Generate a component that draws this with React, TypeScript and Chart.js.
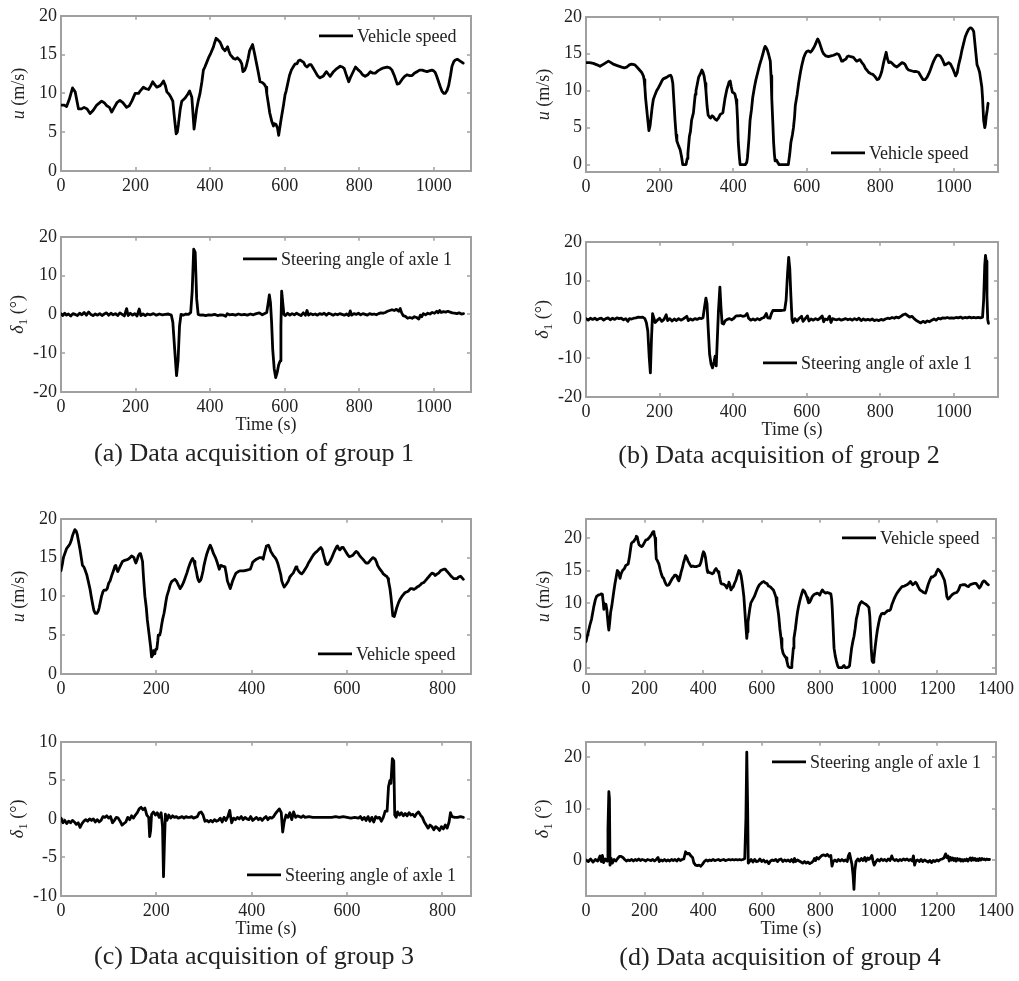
import React, { useEffect, useRef } from "react";
import { Chart, registerables } from "chart.js";

Chart.register(...registerables);

// ---------------- data (time s, value) ----------------
const speedA: [number, number][] = [
  [0,8.5],[8,8.5],[15,8.3],[22,9.2],[31,10.7],[38,10.2],[47,8.0],[55,8.0],[62,8.2],[70,8.0],[78,7.4],[86,7.8],[96,8.5],[109,9.0],[116,8.8],[123,8.4],[130,8.2],[136,7.6],[143,8.2],[150,8.8],[158,9.1],[166,8.8],[176,8.2],[183,8.4],[190,9.0],[199,10.0],[208,10.0],[214,10.4],[221,10.8],[228,10.6],[235,10.5],[241,11.0],[246,11.5],[252,11.1],[257,10.8],[266,11.0],[271,11.3],[275,11.6],[280,11.0],[284,10.2],[290,9.9],[295,9.5],[300,9.0],[304,7.0],[309,4.8],[312,5.0],[315,6.0],[320,8.0],[324,9.0],[333,9.4],[340,9.9],[345,10.3],[351,9.5],[354,7.5],[357,5.4],[360,6.5],[364,8.0],[368,9.0],[373,10.0],[378,11.5],[382,13.0],[386,13.4],[391,14.0],[396,14.6],[402,15.2],[409,16.0],[412,16.5],[416,17.1],[421,16.9],[427,16.6],[434,15.8],[440,15.5],[447,16.0],[450,15.5],[454,15.0],[463,14.5],[468,14.4],[473,14.6],[481,14.2],[485,13.8],[488,12.8],[493,13.0],[497,13.5],[502,14.5],[506,15.5],[514,16.3],[519,15.2],[524,14.0],[529,12.8],[534,11.5],[540,11.4],[545,11.2],[550,10.8],[552,10.0],[556,8.8],[560,7.5],[566,6.3],[570,5.8],[572,6.1],[577,6.0],[581,5.5],[584,4.6],[590,6.5],[597,8.5],[601,9.8],[604,10.3],[608,11.2],[613,12.3],[618,13.0],[624,13.5],[628,13.8],[633,13.8],[637,14.2],[642,14.3],[651,14.0],[655,13.6],[660,13.4],[666,13.7],[671,13.7],[676,13.3],[682,12.8],[688,12.3],[694,12.0],[703,12.2],[712,12.8],[717,12.5],[722,12.2],[731,12.8],[740,13.2],[749,13.5],[755,13.4],[760,13.2],[766,12.3],[772,11.5],[776,12.0],[781,12.5],[790,13.4],[796,13.1],[803,12.8],[809,12.4],[816,12.2],[823,12.4],[830,12.8],[837,12.6],[843,12.6],[850,12.9],[857,13.1],[866,13.3],[875,13.4],[882,13.3],[888,13.0],[895,12.2],[902,11.2],[908,11.3],[915,11.8],[922,12.2],[928,12.4],[935,12.3],[942,12.3],[948,12.6],[955,12.8],[962,13.0],[969,13.0],[975,12.9],[982,12.8],[988,12.9],[995,13.0],[1000,12.9],[1004,12.7],[1008,12.2],[1013,11.5],[1018,10.8],[1022,10.3],[1027,10.0],[1031,10.0],[1036,10.4],[1040,11.0],[1045,12.3],[1049,13.5],[1054,14.1],[1058,14.3],[1063,14.4],[1067,14.3],[1073,14.1],[1079,13.9]
];

const steerA: [number, number][] = [
  [0,0.2],[5,-0.3],[10,0.3],[15,-0.2],[20,0.1],[26,-0.4],[32,0.2],[38,0],[44,-0.3],[50,0.3],[56,-0.1],[62,0.5],[68,-0.2],[74,0.6],[80,0],[86,-0.3],[92,0.1],[98,-0.2],[104,0.2],[110,-0.3],[116,0.1],[122,0.4],[128,-0.2],[134,0.3],[140,-0.1],[146,0.2],[152,-0.3],[158,0.4],[164,0],[170,-0.4],[176,1.5],[180,-0.3],[186,0.3],[192,-0.2],[198,0.2],[204,-0.4],[210,1.4],[214,-0.3],[220,0.1],[226,-0.3],[232,0.1],[240,-0.1],[248,0.2],[256,-0.2],[264,0.1],[272,-0.1],[280,0],[288,0.1],[296,-0.2],[300,-2],[305,-9],[310,-15.8],[314,-12],[318,-3],[322,0],[328,-0.2],[335,0.1],[342,0],[348,0.5],[352,6],[356,16.8],[360,16],[364,4],[368,0],[374,-0.2],[380,-0.1],[388,-0.3],[396,-0.1],[404,-0.2],[412,0],[420,-0.3],[428,-0.1],[436,-0.2],[442,-0.5],[446,0.2],[452,-0.1],[460,0],[468,-0.2],[476,0.1],[484,-0.1],[492,0],[500,-0.2],[508,0.1],[516,-0.1],[524,0.2],[532,0.4],[540,-0.1],[548,0.3],[552,0.5],[556,3],[559,5],[562,3],[565,-2],[568,-9],[572,-14],[576,-16.3],[580,-15],[584,-13],[588,-12],[590,-3],[592,6],[595,3],[598,0],[602,-0.3],[608,0.3],[614,-0.2],[620,0.2],[626,-0.1],[632,0.3],[638,0],[644,-0.3],[650,0.4],[656,-0.2],[660,1.0],[664,-0.2],[670,0.2],[676,-0.1],[682,0.1],[688,-0.2],[694,0.2],[700,0],[706,0.3],[712,-0.2],[718,0.3],[724,0.1],[730,-0.2],[736,0.1],[742,-0.1],[748,0.2],[754,0],[760,-0.2],[766,0.1],[772,-0.3],[776,0.9],[780,-0.2],[786,0.2],[792,0],[798,0.3],[804,-0.1],[810,0.2],[816,0],[822,-0.2],[828,0.2],[834,0],[840,0.1],[846,-0.1],[852,0.2],[858,0.4],[864,0.3],[870,0.5],[876,0.8],[882,1.0],[888,1.2],[894,1.0],[900,1.3],[906,0.8],[910,1.5],[914,0.4],[918,-0.3],[924,-0.5],[930,-1.0],[936,-0.8],[942,-1.0],[948,-0.6],[954,-0.8],[960,-1.2],[964,-0.2],[968,-0.6],[972,0.2],[978,-0.1],[984,0.3],[990,0.1],[996,0.5],[1002,0.3],[1008,0.8],[1012,0.4],[1016,1.0],[1020,0.5],[1026,0.7],[1032,0.6],[1038,0.8],[1044,0.6],[1050,0.4],[1056,0.3],[1062,0.2],[1068,0.4],[1074,0.1],[1080,0.2]
];

const speedB: [number, number][] = [
  [0,13.8],[10,13.8],[20,13.7],[30,13.5],[38,13.3],[48,13.6],[61,14.0],[68,13.8],[74,13.6],[85,13.4],[97,13.2],[104,13.1],[111,13.2],[118,13.5],[124,13.6],[133,13.5],[142,13.0],[151,12.5],[156,12.0],[158,11.5],[160,10.5],[162,9.0],[165,7.5],[167,6.5],[171,4.6],[174,5.2],[177,6.5],[180,7.8],[183,8.8],[188,9.5],[192,10.0],[197,10.4],[201,10.8],[206,11.3],[210,11.6],[219,11.8],[225,12.0],[230,12.1],[233,11.8],[236,11.0],[239,8.5],[242,6.0],[245,4.0],[247,3.2],[252,2.5],[256,2.0],[260,1.0],[263,0.0],[268,0.0],[272,0.0],[275,0.8],[277,1.5],[281,3.8],[284,4.5],[287,6.0],[292,7.0],[294,8.0],[297,9.5],[299,10.0],[303,11.0],[306,11.8],[311,12.3],[315,12.8],[318,12.5],[321,12.0],[324,11.0],[326,10.0],[329,8.0],[332,6.7],[336,6.4],[339,6.3],[343,6.6],[346,6.5],[350,6.2],[355,6.0],[360,6.3],[365,6.8],[372,7.0],[375,8.0],[378,9.0],[383,10.2],[385,10.5],[389,11.2],[392,11.3],[395,10.5],[398,9.8],[402,9.7],[405,9.5],[408,8.8],[410,8.0],[412,6.0],[414,3.0],[417,1.0],[419,0.0],[425,0.0],[433,0.0],[437,0.3],[439,1.0],[443,3.5],[446,6.0],[450,7.5],[453,9.0],[458,10.5],[462,11.5],[467,12.5],[472,13.5],[477,14.3],[481,15.0],[484,15.6],[487,16.0],[490,15.8],[493,15.5],[497,14.8],[501,14.0],[503,12.0],[505,9.0],[508,5.5],[510,3.0],[512,1.5],[514,0.5],[518,0.6],[521,0.3],[525,0.0],[535,0.0],[545,0.0],[550,0.0],[554,1.5],[557,3.0],[561,4.0],[564,5.0],[567,6.5],[569,8.0],[574,9.5],[578,11.0],[583,12.5],[587,13.5],[592,14.5],[596,15.0],[600,15.3],[605,15.4],[610,15.2],[614,15.4],[619,15.8],[623,16.2],[627,16.7],[630,17.0],[634,16.6],[638,16.0],[642,15.4],[646,15.0],[652,14.7],[659,14.6],[666,14.7],[673,14.8],[682,15.0],[687,14.9],[691,14.5],[695,14.0],[698,14.0],[703,14.2],[707,14.3],[710,14.6],[714,14.7],[720,14.6],[727,14.5],[732,14.2],[736,14.0],[740,14.1],[745,14.2],[750,13.8],[755,13.5],[760,13.0],[765,12.7],[768,12.5],[774,12.3],[780,12.2],[786,11.9],[791,11.5],[796,11.6],[800,12.0],[804,12.6],[809,13.8],[813,14.6],[816,15.2],[819,14.4],[823,13.8],[828,13.9],[832,13.7],[838,13.4],[845,13.2],[852,13.5],[859,13.8],[864,13.7],[868,13.5],[873,13.0],[877,12.8],[884,12.7],[891,12.6],[898,12.6],[904,12.5],[910,12.0],[916,11.5],[922,11.5],[927,11.8],[932,12.3],[936,12.8],[941,13.5],[945,14.0],[950,14.5],[954,14.8],[959,14.8],[963,14.7],[968,14.3],[975,13.5],[980,13.6],[986,13.8],[991,13.6],[997,13.0],[1001,12.5],[1005,12.0],[1009,12.4],[1013,13.5],[1018,14.5],[1022,15.5],[1027,16.5],[1031,17.3],[1036,17.9],[1040,18.3],[1044,18.5],[1047,18.5],[1051,18.3],[1054,18.0],[1056,17.0],[1058,16.0],[1061,14.5],[1063,13.5],[1067,13.0],[1070,12.5],[1073,11.5],[1076,10.5],[1078,9.0],[1081,6.0],[1084,5.0],[1086,5.5],[1088,6.5],[1091,7.5],[1093,8.3]
];

const steerB: [number, number][] = [
  [0,0.2],[6,-0.2],[12,0.3],[18,0],[24,0.3],[30,-0.1],[36,0.2],[42,0.3],[48,-0.2],[54,0.2],[60,0.4],[66,-0.1],[72,0.3],[78,0],[84,0.4],[90,0.2],[96,0.3],[102,-0.1],[108,0.2],[114,-0.5],[118,0.2],[124,0.1],[130,0.3],[136,0.4],[142,0.6],[148,0.5],[154,0.6],[160,0.2],[164,-0.8],[168,-3],[172,-10],[175,-13.8],[178,-5],[181,1.5],[184,0.5],[188,-0.8],[194,-0.2],[200,0.3],[206,-0.5],[212,0],[218,1.2],[222,-0.3],[228,0.2],[234,-0.4],[240,0.1],[246,-0.3],[252,0.2],[258,-0.2],[264,0.1],[270,0.5],[274,0.8],[278,-0.3],[284,0.1],[290,-0.2],[296,0.2],[302,0],[308,0.3],[314,0.2],[318,0.4],[322,3],[326,5.5],[329,4],[332,-2],[336,-9],[340,-11.5],[344,-12.5],[348,-11],[351,-9.5],[354,-12],[357,-5],[360,2],[364,8.3],[367,3],[370,-1],[374,-1.2],[378,-0.4],[384,0],[390,0.2],[396,-0.1],[402,0.3],[408,0.9],[414,0.9],[420,1.0],[426,0.8],[432,0.9],[438,1.5],[442,0.3],[448,-0.2],[454,0.1],[460,-0.2],[466,0.2],[472,-0.1],[478,0.3],[484,0.5],[490,1.5],[494,0.4],[500,0.3],[504,1.5],[508,2.3],[516,2.3],[524,2.3],[532,2.3],[540,2.4],[544,5],[548,12],[551,16],[554,13],[557,6],[560,0],[563,-0.8],[568,0.2],[574,-0.4],[580,0.3],[586,0.8],[590,-0.5],[596,0.2],[602,0.9],[606,-0.4],[612,0.1],[618,-0.2],[624,0.2],[630,-0.1],[636,0.3],[642,0.9],[646,-0.6],[650,0.1],[656,-0.1],[662,0.8],[666,-0.8],[670,0.2],[676,0],[682,-0.1],[688,0.1],[694,-0.2],[700,0],[706,0.2],[712,-0.1],[718,0.1],[724,-0.2],[730,0.2],[736,-0.1],[742,0.3],[748,-0.3],[754,0.1],[760,-0.2],[766,0],[772,-0.2],[778,0.1],[784,-0.3],[790,-0.1],[796,-0.3],[802,0],[808,-0.2],[814,0.1],[820,0.3],[826,0.2],[832,0.5],[838,0.3],[844,0.6],[850,0.4],[856,0.8],[862,1.2],[868,1.4],[874,1.0],[880,0.6],[886,0.8],[892,0.2],[898,-0.3],[904,-0.6],[910,-0.9],[916,-0.5],[922,-0.8],[928,-0.4],[934,-0.6],[940,-0.2],[946,0.1],[952,-0.2],[958,0.3],[964,0.1],[970,0.4],[976,0.3],[982,0.5],[988,0.3],[994,0.4],[1000,0.3],[1006,0.5],[1012,0.4],[1018,0.6],[1024,0.3],[1030,0.5],[1036,0.4],[1042,0.6],[1048,0.4],[1054,0.5],[1060,0.4],[1066,0.5],[1072,0.4],[1078,0.6],[1081,5],[1084,14],[1086,16.5],[1088,15],[1090,6],[1092,0],[1094,-1]
];

const speedC: [number, number][] = [
  [0,13.3],[3,14.2],[5,15.0],[9,15.7],[12,16.2],[16,16.5],[19,16.8],[22,17.3],[24,17.8],[27,18.3],[29,18.6],[32,18.4],[34,18.0],[37,17.0],[40,16.0],[43,14.8],[45,14.0],[48,13.8],[50,13.5],[54,12.8],[57,12.0],[61,10.9],[64,9.8],[67,8.8],[69,8.2],[72,7.8],[75,7.8],[78,8.1],[80,8.5],[83,9.4],[85,10.0],[88,10.6],[90,10.8],[94,10.8],[97,11.0],[100,11.7],[103,12.0],[107,12.8],[110,13.3],[113,13.9],[115,14.0],[117,13.5],[119,13.2],[122,13.6],[125,14.0],[129,14.5],[132,14.6],[137,14.7],[141,14.8],[145,15.0],[148,15.2],[151,15.1],[153,15.0],[155,14.6],[157,14.3],[160,14.8],[162,15.2],[165,15.5],[167,15.5],[169,15.0],[171,14.5],[173,12.5],[176,10.0],[179,8.5],[181,7.0],[183,6.0],[185,5.0],[188,3.5],[190,2.2],[192,2.4],[194,3.0],[196,2.6],[197,2.8],[199,3.2],[201,3.2],[203,4.3],[204,5.0],[207,5.0],[209,5.5],[211,6.3],[213,7.0],[216,7.8],[218,8.5],[220,9.3],[222,10.0],[226,10.8],[229,11.5],[232,11.9],[234,12.0],[237,12.1],[239,12.2],[242,12.0],[246,11.5],[250,11.0],[254,11.4],[257,11.8],[260,12.3],[264,13.0],[268,13.8],[271,14.3],[274,14.7],[276,14.9],[279,14.5],[281,14.0],[284,13.2],[286,12.5],[288,12.1],[290,11.9],[293,12.1],[295,12.5],[298,13.3],[300,14.0],[303,14.8],[306,15.5],[310,16.2],[313,16.6],[316,16.2],[320,15.5],[324,15.0],[327,14.5],[330,13.9],[332,13.5],[335,14.0],[339,13.9],[344,13.8],[347,12.8],[349,12.0],[352,11.5],[355,11.0],[358,11.6],[360,12.0],[364,12.6],[367,13.0],[372,13.2],[376,13.3],[383,13.3],[390,13.4],[397,13.5],[400,14.0],[402,14.4],[406,14.6],[410,14.8],[417,15.0],[421,15.0],[424,14.8],[427,15.6],[431,16.5],[435,16.6],[438,16.2],[440,15.8],[445,15.3],[449,15.0],[452,14.7],[455,14.2],[458,13.5],[461,12.8],[463,12.0],[466,11.5],[468,11.2],[473,11.6],[477,12.0],[480,12.5],[484,12.8],[487,13.0],[490,13.4],[493,13.8],[495,13.6],[498,13.3],[502,13.0],[505,12.9],[509,13.2],[512,13.5],[516,13.9],[519,14.3],[523,14.7],[526,15.0],[530,15.4],[533,15.6],[537,15.8],[540,16.0],[545,16.3],[548,16.0],[550,15.5],[553,14.8],[556,14.2],[559,14.1],[561,14.2],[565,14.6],[568,15.0],[572,15.6],[575,16.0],[578,16.4],[580,16.5],[583,16.1],[585,16.0],[589,16.3],[592,16.3],[596,15.9],[599,15.6],[602,15.3],[605,15.1],[609,15.2],[612,15.3],[616,15.6],[619,15.8],[623,15.6],[626,15.3],[630,15.0],[633,14.8],[637,14.5],[640,14.3],[644,14.3],[647,14.5],[651,14.8],[654,15.0],[657,14.9],[659,14.8],[662,14.4],[664,14.0],[667,13.7],[669,13.5],[673,13.2],[676,12.9],[680,12.7],[683,12.6],[686,12.3],[687,12.0],[690,11.0],[692,10.0],[694,8.8],[696,7.5],[699,7.4],[701,7.8],[704,8.5],[708,9.2],[711,9.6],[715,10.0],[719,10.3],[722,10.5],[726,10.6],[729,10.7],[733,11.0],[736,11.0],[740,10.9],[743,11.0],[747,11.2],[750,11.3],[754,11.5],[757,11.7],[761,11.8],[764,12.0],[768,12.3],[771,12.5],[775,12.8],[778,13.0],[782,12.9],[785,12.7],[789,12.9],[792,13.0],[796,13.3],[799,13.4],[803,13.5],[806,13.5],[810,13.2],[813,13.0],[817,12.7],[820,12.5],[824,12.3],[827,12.3],[831,12.3],[834,12.5],[838,12.6],[841,12.4],[844,12.2]
];

const steerC: [number, number][] = [
  [0,0.1],[4,-0.5],[8,-0.2],[12,-0.6],[16,-0.3],[20,-0.5],[24,-0.2],[28,-0.4],[32,-0.7],[36,-0.5],[40,-1.1],[44,-0.6],[48,-0.3],[52,-0.1],[56,-0.3],[60,0],[64,-0.2],[68,0],[72,-0.4],[76,-0.1],[80,-0.4],[84,-0.2],[88,0.3],[92,0.2],[96,0.4],[100,0.1],[104,0.3],[108,-0.5],[112,-0.2],[116,0.2],[120,0.1],[124,-0.3],[128,-0.8],[132,-0.6],[136,-0.4],[140,0.2],[144,-0.1],[148,0.4],[152,0.1],[156,0.5],[160,0.8],[164,1.3],[168,1.5],[172,1.2],[176,1.4],[180,0.5],[184,0.2],[186,-2.3],[188,-1.5],[190,0.6],[194,0.9],[198,0.5],[202,0.8],[206,0.2],[210,0.8],[213,-1],[215,-7.5],[217,-3],[219,0.6],[222,-0.2],[226,0.5],[230,0.1],[234,0.4],[238,0.2],[242,0.3],[246,0.1],[250,0.2],[254,0.3],[258,0.1],[262,0.3],[266,0.2],[270,0.2],[274,0.3],[278,0.1],[282,0.2],[286,0.3],[290,0.8],[294,0.9],[298,0.5],[302,-0.3],[306,-0.2],[310,-0.4],[314,-0.2],[318,-0.4],[322,-0.1],[326,-0.3],[330,-0.2],[334,0.1],[338,-0.4],[342,0.2],[346,-0.2],[350,0.3],[354,1.1],[356,0.2],[358,-0.5],[362,0.1],[366,-0.1],[370,0.2],[374,0],[378,0.3],[382,-0.1],[386,0.2],[390,0],[394,-0.1],[398,0.3],[402,-0.2],[406,0],[410,0.2],[414,-0.1],[418,0.1],[422,-0.2],[426,0.1],[430,0.3],[434,-0.1],[438,0.2],[442,0.1],[446,0.3],[450,0.7],[454,1.0],[458,1.3],[462,0.8],[465,-1.7],[468,-0.4],[472,0.5],[476,0.2],[480,0.8],[484,-0.1],[488,0.9],[492,0.2],[496,0.4],[500,0.3],[504,0.2],[508,0.4],[512,0.2],[520,0.3],[528,0.2],[536,0.2],[544,0.2],[552,0.2],[560,0.2],[568,0.2],[576,0.3],[584,0.2],[592,0.3],[600,0.2],[608,0.1],[616,0.2],[624,0.1],[628,0.3],[632,-0.1],[636,0.2],[640,-0.2],[644,0.3],[648,-0.3],[652,0.2],[656,-0.4],[660,0.3],[664,0.1],[668,0.2],[672,-0.3],[676,0.2],[680,1.0],[684,1.0],[687,4.2],[690,5.0],[692,4.6],[695,7.8],[698,7.5],[700,0.5],[703,0.2],[706,0.9],[710,0.5],[714,0.8],[718,0.4],[722,0.7],[726,0.4],[730,0.8],[734,0.5],[738,0.6],[742,0.3],[746,0.7],[750,0.9],[754,0.5],[758,0.2],[762,-0.4],[766,-0.8],[770,-1.2],[774,-0.8],[778,-1.0],[782,-1.4],[786,-1.0],[790,-1.2],[794,-1.5],[798,-1.0],[802,-1.3],[806,-0.8],[810,-1.2],[814,-0.4],[817,0.8],[820,0.3],[826,0.2],[832,0.2],[838,0.3],[844,0.2]
];

const speedD: [number, number][] = [
  [0,4.0],[4,4.8],[8,5.5],[13,6.5],[19,7.5],[23,8.5],[27,9.5],[32,10.5],[36,11.0],[42,11.2],[48,11.3],[53,11.4],[56,11.3],[59,10.0],[61,9.0],[64,9.5],[68,9.8],[71,9.0],[73,8.0],[76,6.5],[78,5.8],[81,7.0],[84,8.5],[88,9.5],[91,10.5],[95,11.8],[99,13.0],[103,14.0],[107,15.0],[111,14.8],[116,13.8],[120,14.5],[125,15.0],[131,15.3],[136,15.8],[140,15.9],[144,16.0],[148,17.0],[152,18.3],[155,19.2],[159,19.4],[163,19.5],[167,19.8],[170,20.0],[172,20.3],[175,20.2],[178,19.5],[181,19.0],[186,18.8],[190,18.7],[193,18.8],[198,19.2],[204,19.7],[210,19.8],[214,20.0],[218,20.2],[223,20.5],[226,20.8],[229,21.0],[232,20.8],[236,20.0],[238,18.5],[240,16.8],[244,16.5],[249,16.0],[253,15.2],[257,14.5],[261,14.0],[265,13.8],[270,13.2],[274,12.8],[278,12.7],[283,12.8],[289,13.3],[295,13.8],[299,14.0],[303,14.3],[307,14.3],[311,14.0],[314,13.6],[317,13.4],[321,14.0],[325,14.8],[329,15.4],[333,16.2],[337,16.8],[340,17.3],[344,17.0],[348,16.5],[354,16.0],[359,15.6],[365,15.7],[370,15.6],[376,15.6],[382,15.7],[388,15.8],[392,16.2],[396,17.0],[399,17.6],[401,17.9],[405,17.6],[408,17.0],[411,16.0],[414,15.0],[416,14.7],[421,14.7],[427,14.6],[431,14.5],[435,14.6],[439,15.0],[442,15.2],[444,15.3],[448,15.0],[451,14.8],[454,14.5],[458,13.6],[461,13.0],[466,12.9],[470,12.9],[473,12.8],[477,12.6],[481,12.3],[485,12.8],[488,13.2],[491,12.8],[495,12.0],[499,12.3],[503,12.5],[507,13.0],[512,13.5],[517,14.3],[522,15.0],[525,14.9],[529,14.3],[532,13.5],[535,12.5],[539,11.0],[542,9.0],[545,7.0],[549,4.5],[551,5.5],[553,7.0],[556,8.0],[559,9.0],[563,10.0],[569,10.5],[575,11.0],[580,11.6],[586,12.3],[592,12.8],[597,13.0],[602,13.2],[607,13.3],[612,13.1],[618,13.0],[623,12.6],[629,12.5],[635,12.2],[640,12.0],[644,11.5],[649,10.8],[652,9.8],[655,9.0],[658,8.0],[662,6.0],[666,4.5],[669,3.0],[673,2.2],[678,1.8],[683,1.5],[686,1.0],[690,0.2],[695,0.0],[700,0.0],[703,0.6],[705,1.5],[708,3.0],[710,4.5],[715,6.0],[719,7.5],[722,8.5],[726,9.5],[730,10.3],[734,11.0],[738,11.6],[741,12.0],[746,11.8],[751,11.3],[755,10.8],[758,10.3],[760,10.0],[764,10.1],[768,10.5],[773,11.0],[779,11.3],[784,11.4],[790,11.5],[794,11.4],[798,11.2],[802,11.6],[807,12.0],[812,11.7],[818,11.5],[824,11.6],[830,11.5],[836,11.4],[839,10.5],[841,9.0],[844,6.0],[847,3.0],[851,1.8],[855,1.0],[859,0.3],[862,0.0],[868,0.0],[875,0.0],[878,0.2],[881,0.3],[885,0.0],[892,0.0],[897,0.1],[900,0.3],[903,1.5],[907,3.0],[911,4.0],[915,4.8],[919,6.0],[923,7.5],[928,8.5],[932,9.5],[937,10.0],[941,10.2],[947,10.0],[955,9.8],[960,9.6],[966,9.3],[969,8.0],[971,6.0],[974,3.0],[977,1.0],[980,0.8],[983,1.3],[987,3.0],[991,4.5],[995,5.8],[1000,7.0],[1004,7.8],[1009,8.3],[1014,8.4],[1018,8.3],[1023,8.5],[1030,8.8],[1036,8.8],[1040,9.0],[1045,9.8],[1051,10.5],[1056,11.0],[1062,11.5],[1070,12.0],[1079,12.5],[1087,12.6],[1096,12.8],[1102,13.0],[1108,13.3],[1112,13.0],[1116,12.8],[1121,13.0],[1125,13.2],[1129,13.0],[1134,12.5],[1140,12.0],[1147,11.8],[1153,11.6],[1159,11.5],[1163,12.0],[1168,12.8],[1173,13.4],[1179,14.0],[1184,14.0],[1189,14.2],[1193,14.3],[1197,14.8],[1202,15.2],[1207,15.0],[1213,14.6],[1219,14.0],[1224,13.5],[1228,12.5],[1232,11.0],[1236,10.6],[1240,10.7],[1245,11.0],[1251,11.3],[1258,11.5],[1266,11.6],[1272,12.0],[1278,12.7],[1286,12.8],[1295,12.8],[1300,12.6],[1306,12.5],[1311,12.8],[1317,12.9],[1324,13.0],[1332,13.0],[1337,12.7],[1343,12.3],[1348,12.6],[1354,13.2],[1358,13.4],[1363,13.3],[1368,13.0],[1374,12.8]
];

const steerD: [number, number][] = [
  [0,0],[8,-0.3],[16,0.2],[24,-0.4],[32,0.1],[40,-0.2],[48,0.8],[52,-0.3],[56,0.9],[60,-0.5],[66,0.2],[72,-0.2],[75,6],[78,13.3],[80,12],[82,-1.0],[86,0.3],[90,-0.6],[96,0.1],[102,-0.2],[108,0.3],[114,0.7],[120,0.7],[126,0.5],[132,0.1],[138,-0.2],[144,0],[150,-0.1],[156,0.1],[162,-0.2],[168,0.1],[174,-0.1],[180,0.2],[186,-0.1],[192,0.1],[198,0],[204,-0.2],[210,0.1],[216,0],[222,-0.1],[228,0.1],[234,-0.2],[240,0.1],[246,0.5],[250,-0.3],[256,0],[262,-0.2],[268,0.1],[274,-0.2],[280,0],[286,-0.2],[292,0.1],[298,-0.1],[304,0.1],[310,-0.2],[316,0.2],[322,-0.1],[328,0.1],[334,0.2],[340,1.6],[346,1.2],[352,1.3],[358,0.8],[364,0.5],[368,-0.5],[374,-1.0],[380,-1.1],[386,-1.0],[392,-1.2],[398,-0.8],[404,-0.3],[410,0],[416,-0.2],[422,0],[428,-0.1],[434,0.1],[440,-0.1],[446,0],[452,0.1],[458,-0.1],[464,0],[470,0.1],[476,-0.1],[482,0],[488,0.1],[494,0],[500,0.1],[506,0],[512,0.1],[518,0],[524,0.1],[530,0],[536,0.1],[542,0.3],[546,8],[549,21],[552,10],[554,-0.6],[558,-0.3],[564,0.1],[570,-0.4],[576,0.1],[582,-0.3],[588,-0.2],[594,0.2],[600,-0.3],[606,0],[612,-0.4],[618,-0.2],[624,-0.7],[630,-0.2],[636,0],[642,-0.1],[648,0.1],[654,-0.3],[660,0.1],[666,0.2],[672,-0.3],[678,0],[684,-0.2],[690,0],[696,-0.3],[702,0.1],[708,-0.4],[712,0.3],[716,-0.3],[722,0],[728,-0.2],[734,-0.4],[740,-0.6],[746,-0.3],[752,-0.6],[758,-0.4],[764,-0.7],[770,-0.5],[776,-0.2],[780,0.3],[784,-0.1],[788,0.5],[794,0.2],[800,0.6],[806,0.9],[812,1.0],[818,0.8],[824,1.1],[830,0.7],[836,0.9],[840,-1.2],[844,-0.3],[850,0],[856,-0.3],[862,0.1],[868,-0.2],[874,0.1],[880,-0.2],[886,0],[892,-0.3],[896,0.8],[900,1.3],[904,0.2],[908,-0.8],[912,-3],[915,-5.7],[918,-2],[922,-0.3],[928,0.2],[934,-0.2],[940,0.3],[946,-0.1],[952,0.5],[956,-0.2],[962,0.4],[966,0.1],[970,0.3],[976,0.9],[980,-0.2],[984,-1.0],[990,-0.3],[996,0.1],[1002,-0.2],[1008,0.2],[1014,-0.1],[1020,0.1],[1026,-0.2],[1032,0.2],[1038,-0.1],[1044,0.8],[1048,0.2],[1054,-0.1],[1060,0.1],[1066,-0.2],[1072,0.1],[1078,-0.1],[1084,0.2],[1090,0],[1096,0.2],[1102,-0.1],[1108,0.1],[1114,-0.2],[1118,0.8],[1122,-1.0],[1126,-0.2],[1132,0],[1138,-0.3],[1144,0.1],[1150,-0.3],[1156,0],[1162,-0.2],[1168,-0.4],[1174,-0.1],[1180,-0.5],[1186,-0.1],[1192,-0.3],[1198,0],[1204,-0.2],[1210,0.1],[1216,0.2],[1222,0.4],[1228,1.2],[1232,0.5],[1236,0.8],[1240,-0.2],[1244,0.5],[1248,0],[1252,0.4],[1256,-0.1],[1260,0.3],[1264,-0.2],[1268,0.3],[1272,0],[1276,0.2],[1280,-0.2],[1284,0.1],[1288,-0.2],[1292,0.1],[1296,-0.1],[1300,0.2],[1304,-0.2],[1308,0.1],[1312,0.4],[1316,-0.1],[1320,0.4],[1324,0],[1328,0.3],[1332,-0.1],[1336,0.2],[1340,-0.1],[1344,0.3],[1348,0],[1352,0.3],[1356,0.1],[1360,0.2],[1364,0],[1368,0.2],[1372,0.1],[1378,0.1]
];

// tick labels
const xTicks1100 = [0, 200, 400, 600, 800, 1000];
const xTicks860 = [0, 200, 400, 600, 800];
const xTicks1400 = [0, 200, 400, 600, 800, 1000, 1200, 1400];
const yTicksSpeed = [0, 5, 10, 15, 20];
const yTicksSteer20 = [-20, -10, 0, 10, 20];
const yTicksSteer10 = [-10, -5, 0, 5, 10];
const yTicksSteerD = [0, 10, 20];

const legendSpeed = "Vehicle speed";
const legendSteer = "Steering angle of axle 1";
const captions = [
  "(a) Data acquisition of group 1",
  "(b) Data acquisition of group 2",
  "(c) Data acquisition of group 3",
  "(d) Data acquisition of group 4",
];

// ---------------- styling / layout ----------------
const FONT = "'Liberation Serif', 'Times New Roman', Times, serif";
const TEXT = "#222";
const FRAME = "#a0a0a0";
const YAXIS_W = 61;
const PAD_TOP = 10;

type Panel = {
  data: [number, number][];
  left: number; top: number; w: number; h: number;
  xMax: number; yMin: number; yMax: number;
  xTicks: number[]; yTicks: number[];
  kind: "u" | "delta";
  legend: string; lx: number; ly: number;
  time: boolean; rightPad: number;
};

const panels: Panel[] = [
  { data: speedA, left: 61, top: 11, w: 410, h: 160, xMax: 1100, yMin: 0, yMax: 20, xTicks: xTicks1100, yTicks: yTicksSpeed, kind: "u", legend: legendSpeed, lx: 258, ly: 20, time: false, rightPad: 30 },
  { data: steerA, left: 61, top: 232, w: 410, h: 160, xMax: 1100, yMin: -20, yMax: 20, xTicks: xTicks1100, yTicks: yTicksSteer20, kind: "delta", legend: legendSteer, lx: 182, ly: 22, time: true, rightPad: 30 },
  { data: speedB, left: 586, top: 12, w: 412, h: 160, xMax: 1120, yMin: -1, yMax: 20, xTicks: xTicks1100, yTicks: yTicksSpeed, kind: "u", legend: legendSpeed, lx: 245, ly: 136, time: false, rightPad: 20 },
  { data: steerB, left: 586, top: 237, w: 412, h: 160, xMax: 1120, yMin: -20, yMax: 20, xTicks: xTicks1100, yTicks: yTicksSteer20, kind: "delta", legend: legendSteer, lx: 177, ly: 121, time: true, rightPad: 20 },
  { data: speedC, left: 61, top: 514, w: 410, h: 160, xMax: 860, yMin: 0, yMax: 20, xTicks: xTicks860, yTicks: yTicksSpeed, kind: "u", legend: legendSpeed, lx: 257, ly: 135, time: false, rightPad: 30 },
  { data: steerC, left: 61, top: 737, w: 410, h: 159, xMax: 860, yMin: -10, yMax: 10, xTicks: xTicks860, yTicks: yTicksSteer10, kind: "delta", legend: legendSteer, lx: 186, ly: 133, time: true, rightPad: 30 },
  { data: speedD, left: 586, top: 514, w: 412, h: 160, xMax: 1400, yMin: -1, yMax: 23, xTicks: xTicks1400, yTicks: yTicksSpeed, kind: "u", legend: legendSpeed, lx: 256, ly: 19, time: false, rightPad: 20 },
  { data: steerD, left: 586, top: 737, w: 412, h: 159, xMax: 1400, yMin: -7, yMax: 23, xTicks: xTicks1400, yTicks: yTicksSteerD, kind: "delta", legend: legendSteer, lx: 186, ly: 20, time: true, rightPad: 20 },
];

const captionPos = [
  { cx: 254, cy: 453 },
  { cx: 779, cy: 455 },
  { cx: 254, cy: 956 },
  { cx: 780, cy: 957 },
];

function makeDecor(p: Panel) {
  return {
    id: "decor",
    beforeDatasetsDraw(chart: any) {
      const { ctx, chartArea } = chart;
      const { left, top, right, bottom } = chartArea;
      const xs = chart.scales.x;
      const ys = chart.scales.y;
      ctx.save();
      ctx.strokeStyle = FRAME;
      ctx.lineWidth = 2;
      ctx.strokeRect(Math.round(left), Math.round(top), Math.round(right - left), Math.round(bottom - top));
      ctx.lineWidth = 1.5;
      ctx.beginPath();
      const tl = 4;
      for (const v of p.xTicks) {
        const px = Math.round(xs.getPixelForValue(v));
        ctx.moveTo(px, bottom); ctx.lineTo(px, bottom - tl);
        ctx.moveTo(px, top); ctx.lineTo(px, top + tl);
      }
      for (const v of p.yTicks) {
        const py = Math.round(ys.getPixelForValue(v));
        ctx.moveTo(left, py); ctx.lineTo(left + tl, py);
        ctx.moveTo(right, py); ctx.lineTo(right - tl, py);
      }
      ctx.stroke();
      ctx.restore();
    },
    afterDraw(chart: any) {
      const { ctx, chartArea } = chart;
      const { left, top, right, bottom } = chartArea;
      ctx.save();
      // legend
      const lx = left + p.lx;
      const ly = top + p.ly;
      ctx.strokeStyle = "#000";
      ctx.lineWidth = 2.8;
      ctx.beginPath();
      ctx.moveTo(lx, ly);
      ctx.lineTo(lx + 34, ly);
      ctx.stroke();
      ctx.fillStyle = TEXT;
      ctx.font = `18px ${FONT}`;
      ctx.textAlign = "left";
      ctx.textBaseline = "middle";
      ctx.fillText(p.legend, lx + 38, ly + 1);

      // time title
      if (p.time) {
        ctx.textAlign = "center";
        ctx.fillText("Time (s)", (left + right) / 2, bottom + 33);
      }

      // y title (rotated)
      ctx.translate(left - 43, (top + bottom) / 2);
      ctx.rotate(-Math.PI / 2);
      ctx.textAlign = "left";
      ctx.textBaseline = "middle";
      if (p.kind === "u") {
        ctx.font = `italic 18px ${FONT}`;
        const w1 = ctx.measureText("u").width;
        ctx.font = `18px ${FONT}`;
        const w2 = ctx.measureText(" (m/s)").width;
        const x0 = -(w1 + w2) / 2;
        ctx.font = `italic 18px ${FONT}`;
        ctx.fillText("u", x0, 1);
        ctx.font = `18px ${FONT}`;
        ctx.fillText(" (m/s)", x0 + w1, 1);
      } else {
        ctx.font = `italic 18px ${FONT}`;
        const w1 = ctx.measureText("δ").width;
        ctx.font = `13px ${FONT}`;
        const w2 = ctx.measureText("1").width;
        ctx.font = `18px ${FONT}`;
        const w3 = ctx.measureText(" (°)").width;
        const x0 = -(w1 + w2 + w3) / 2;
        ctx.font = `italic 18px ${FONT}`;
        ctx.fillText("δ", x0, 0);
        ctx.font = `13px ${FONT}`;
        ctx.fillText("1", x0 + w1, 6);
        ctx.font = `18px ${FONT}`;
        ctx.fillText(" (°)", x0 + w1 + w2, 0);
      }
      ctx.restore();
    },
  };
}

function PlotCanvas({ p }: { p: Panel }) {
  const ref = useRef<HTMLCanvasElement | null>(null);
  const xAxisH = p.time ? 50 : 28;
  const W = YAXIS_W + p.w + p.rightPad;
  const H = PAD_TOP + p.h + xAxisH;

  useEffect(() => {
    if (!ref.current) return;
    const tickFont = { family: FONT, size: 18 };
    const chart = new Chart(ref.current, {
      type: "line",
      data: {
        datasets: [
          {
            data: p.data.map(([x, y]) => ({ x, y })),
            borderColor: "#000",
            borderWidth: 2.8,
            pointRadius: 0,
            tension: 0,
            fill: false,
            borderJoinStyle: "round",
            borderCapStyle: "round",
          },
        ],
      },
      options: {
        responsive: false,
        animation: false,
        devicePixelRatio: 1,
        layout: { padding: { top: PAD_TOP, right: p.rightPad, left: 0, bottom: 0 } },
        plugins: { legend: { display: false }, tooltip: { enabled: false } },
        scales: {
          x: {
            type: "linear",
            min: 0,
            max: p.xMax,
            grid: { display: false, drawTicks: false },
            border: { display: false },
            afterBuildTicks: (s: any) => { s.ticks = p.xTicks.map((v) => ({ value: v })); },
            afterFit: (s: any) => { s.height = xAxisH; },
            ticks: {
              font: tickFont,
              color: TEXT,
              padding: 4,
              autoSkip: false,
              maxRotation: 0,
              callback: (v: any) => String(v),
            },
          },
          y: {
            type: "linear",
            min: p.yMin,
            max: p.yMax,
            grid: { display: false, drawTicks: false },
            border: { display: false },
            afterBuildTicks: (s: any) => { s.ticks = p.yTicks.map((v) => ({ value: v })); },
            afterFit: (s: any) => { s.width = YAXIS_W; },
            ticks: {
              font: tickFont,
              color: TEXT,
              padding: 4,
              autoSkip: false,
              callback: (v: any) => String(v),
            },
          },
        },
      } as any,
      plugins: [makeDecor(p)],
    });
    return () => chart.destroy();
  }, []);

  return (
    <canvas
      ref={ref}
      width={W}
      height={H}
      style={{ position: "absolute", left: p.left - YAXIS_W, top: p.top - PAD_TOP, width: W, height: H }}
    />
  );
}

export default function App() {
  return (
    <div style={{ position: "absolute", left: 0, top: 0, width: 1019, height: 981, background: "#fff", overflow: "hidden" }}>
      {panels.map((p, i) => (
        <PlotCanvas key={i} p={p} />
      ))}
      {captions.map((c, i) => (
        <div
          key={"c" + i}
          style={{
            position: "absolute",
            left: captionPos[i].cx - 250,
            top: captionPos[i].cy - 15,
            width: 500,
            height: 30,
            lineHeight: "30px",
            textAlign: "center",
            fontFamily: FONT,
            fontSize: 26,
            color: TEXT,
            whiteSpace: "nowrap",
          }}
        >
          {c}
        </div>
      ))}
    </div>
  );
}
